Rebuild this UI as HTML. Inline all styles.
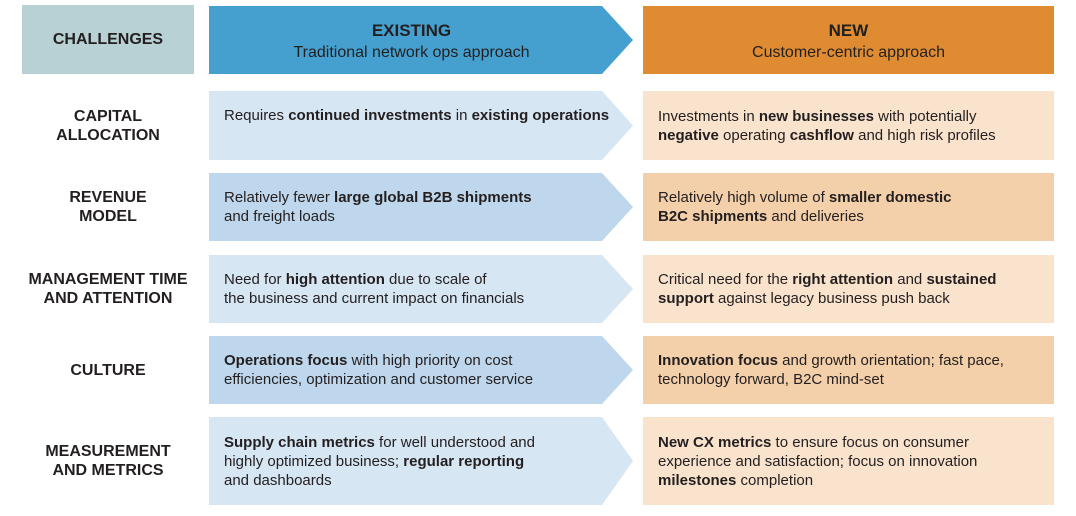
<!DOCTYPE html>
<html><head><meta charset="utf-8"><style>
body{margin:0;width:1076px;height:516px;background:#fff;position:relative;overflow:hidden;font-family:"Liberation Sans",Arial,sans-serif;color:#231f20}
.a{position:absolute;display:flex;align-items:center;font-size:15px;line-height:19px}
.lab{justify-content:center;text-align:center;font-weight:bold;font-size:16px;line-height:19px;left:10px;width:196px}
.ex{left:224px;width:390px}
.nw{left:658px;width:395px}
b{font-weight:bold}
.h{justify-content:center;text-align:center;font-size:16px;line-height:21px}
.h b{font-size:17px}
</style></head><body>
<svg width="1076" height="516" style="position:absolute;left:0;top:0">
<rect x="22" y="5" width="172" height="69" fill="#b8d1d5"/>
<polygon points="209,6 602,6 633,40 602,74 209,74" fill="#46a0cf"/>
<rect x="643" y="6" width="411" height="68" fill="#de8b31"/>
<polygon points="209,91 602,91 633,125.5 602,160 209,160" fill="#d7e6f3"/>
<polygon points="209,173 602,173 633,207 602,241 209,241" fill="#bfd7ec"/>
<polygon points="209,255 602,255 633,289 602,323 209,323" fill="#d7e6f3"/>
<polygon points="209,336 602,336 633,370 602,404 209,404" fill="#bfd7ec"/>
<polygon points="209,417 602,417 633,461 602,505 209,505" fill="#d7e6f3"/>
<rect x="643" y="91" width="411" height="69" fill="#f9e3cd"/>
<rect x="643" y="173" width="411" height="68" fill="#f4d0aa"/>
<rect x="643" y="255" width="411" height="68" fill="#f9e3cd"/>
<rect x="643" y="336" width="411" height="68" fill="#f4d0aa"/>
<rect x="643" y="417" width="411" height="88" fill="#f9e3cd"/>
</svg>
<div class="a lab" style="top:5px;height:69px;left:22px;width:172px">CHALLENGES</div>
<div class="a h" style="top:7px;height:68px;left:209px;width:405px"><div><b>EXISTING</b><br>Traditional network ops approach</div></div>
<div class="a h" style="top:7px;height:68px;left:643px;width:411px"><div><b>NEW</b><br>Customer-centric approach</div></div>

<div class="a lab" style="top:91px;height:69px">CAPITAL<br>ALLOCATION</div>
<div class="a lab" style="top:173px;height:68px">REVENUE<br>MODEL</div>
<div class="a lab" style="top:255px;height:68px">MANAGEMENT TIME<br>AND ATTENTION</div>
<div class="a lab" style="top:336px;height:68px">CULTURE</div>
<div class="a lab" style="top:417px;height:88px">MEASUREMENT<br>AND METRICS</div>

<div class="a ex" style="top:106px;height:19px;white-space:nowrap">Requires&nbsp;<b>continued investments</b>&nbsp;in&nbsp;<b>existing operations</b></div>
<div class="a ex" style="top:173px;height:68px"><div>Relatively fewer <b>large global B2B shipments</b><br>and freight loads</div></div>
<div class="a ex" style="top:255px;height:68px"><div>Need for <b>high attention</b> due to scale of<br>the business and current impact on financials</div></div>
<div class="a ex" style="top:336px;height:68px"><div><b>Operations focus</b> with high priority on cost<br>efficiencies, optimization and customer service</div></div>
<div class="a ex" style="top:417px;height:88px"><div><b>Supply chain metrics</b> for well understood and<br>highly optimized business; <b>regular reporting</b><br>and dashboards</div></div>

<div class="a nw" style="top:91px;height:69px"><div>Investments in <b>new businesses</b> with potentially<br><b>negative</b> operating <b>cashflow</b> and high risk profiles</div></div>
<div class="a nw" style="top:173px;height:68px"><div>Relatively high volume of <b>smaller domestic</b><br><b>B2C shipments</b> and deliveries</div></div>
<div class="a nw" style="top:255px;height:68px"><div>Critical need for the <b>right attention</b> and <b>sustained</b><br><b>support</b> against legacy business push back</div></div>
<div class="a nw" style="top:336px;height:68px"><div><b>Innovation focus</b> and growth orientation; fast pace,<br>technology forward, B2C mind-set</div></div>
<div class="a nw" style="top:417px;height:88px"><div><b>New CX metrics</b> to ensure focus on consumer<br>experience and satisfaction; focus on innovation<br><b>milestones</b> completion</div></div>
</body></html>
